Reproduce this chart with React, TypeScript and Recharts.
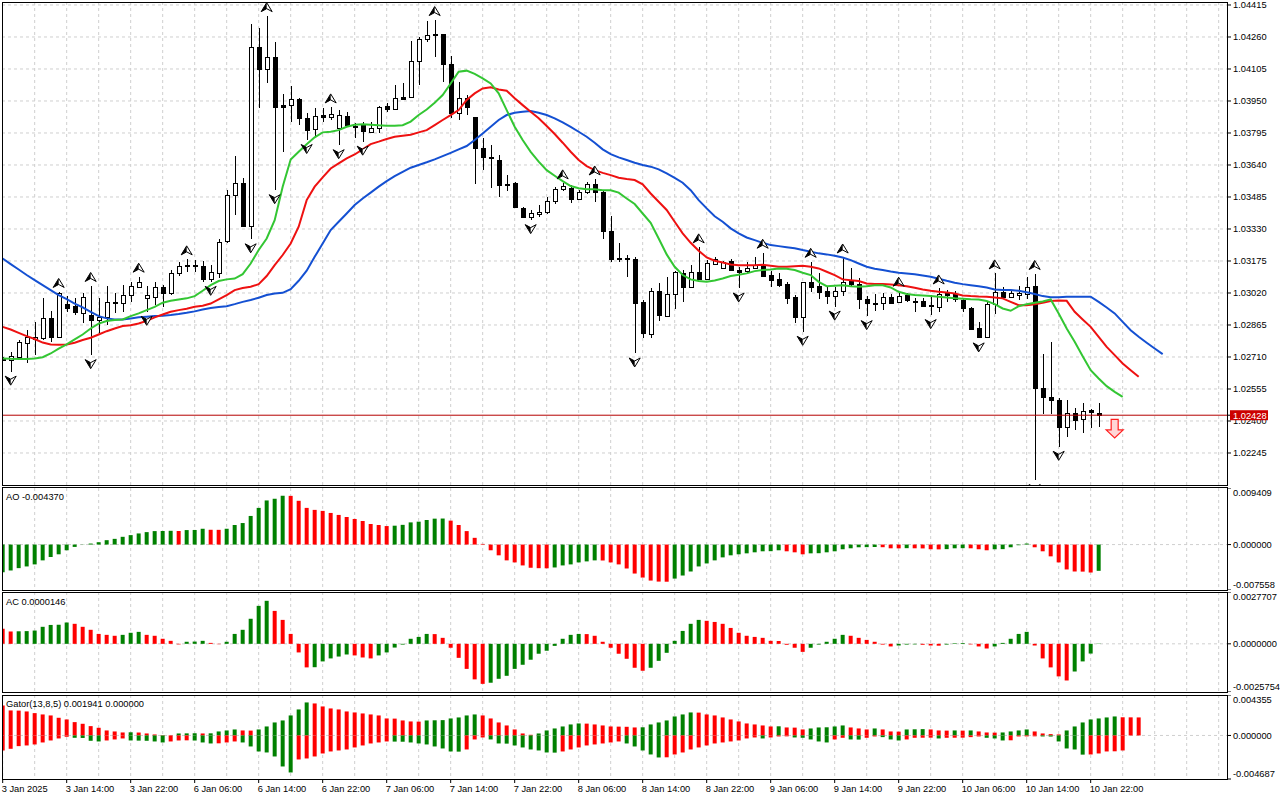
import React from 'react';
import { ComposedChart, Bar, Line, XAxis, YAxis, CartesianGrid, ReferenceLine, Scatter, Cell } from 'recharts';

// ---------- data (EURUSD-like H1, 3 Jan 06:00 .. 10 Jan 23:00) ----------
const openP = [
  1.02701,1.02695,1.02711,1.02779,1.02795,1.02800,1.02897,1.02808,1.02967,1.02957,
  1.02925,1.02913,1.02889,1.02902,1.02970,1.02970,1.03010,1.03050,1.02996,1.03002,
  1.03047,1.03021,1.03115,1.03158,1.03158,1.03150,1.03086,1.03118,1.03273,1.03497,
  1.03551,1.03346,1.04210,1.04103,1.04164,1.03929,1.03930,1.03961,1.03866,1.03812,
  1.03882,1.03874,1.03817,1.03879,1.03830,1.03832,1.03801,1.03817,1.03925,1.03909,
  1.03967,1.03971,1.04143,1.04248,1.04276,1.04274,1.04127,1.03890,1.03963,1.03871,
  1.03720,1.03680,1.03662,1.03549,1.03551,1.03434,1.03389,1.03405,1.03412,1.03465,
  1.03522,1.03530,1.03473,1.03510,1.03547,1.03510,1.03320,1.03189,1.03189,1.03184,
  1.02975,1.02821,1.03030,1.02908,1.03013,1.03118,1.03047,1.03123,1.03087,1.03160,
  1.03139,1.03174,1.03131,1.03128,1.03139,1.03152,1.03107,1.03086,1.03063,1.03002,
  1.02905,1.03071,1.03054,1.03030,1.03005,1.03030,1.03083,1.03066,1.02990,1.02973,
  1.02970,1.03002,1.02975,1.03010,1.02981,1.02981,1.02963,1.02950,1.03018,1.03015,
  1.02986,1.02946,1.02852,1.02808,1.02967,1.03023,1.02999,1.03012,1.03015,1.03054,
  1.02558,1.02514,1.02501,1.02369,1.02441,1.02412,1.02452,1.02441,
];
const highP = [
  1.02711,1.02735,1.02792,1.02841,1.02881,1.02997,1.02933,1.03025,1.03005,1.02994,
  1.03018,1.03054,1.02994,1.03055,1.03018,1.03058,1.03074,1.03099,1.03054,1.03074,
  1.03058,1.03131,1.03171,1.03183,1.03179,1.03176,1.03155,1.03281,1.03518,1.03683,
  1.03575,1.04323,1.04302,1.04361,1.04234,1.03982,1.04022,1.03965,1.03890,1.03915,
  1.03915,1.03919,1.03906,1.03895,1.03845,1.03850,1.03850,1.03925,1.03938,1.04027,
  1.04035,1.04240,1.04261,1.04337,1.04342,1.04276,1.04168,1.04043,1.03979,1.03874,
  1.03769,1.03736,1.03688,1.03591,1.03556,1.03438,1.03422,1.03446,1.03486,1.03535,
  1.03551,1.03543,1.03518,1.03559,1.03570,1.03515,1.03392,1.03260,1.03204,1.03196,
  1.02986,1.03042,1.03069,1.03099,1.03125,1.03131,1.03155,1.03241,1.03179,1.03196,
  1.03176,1.03187,1.03147,1.03171,1.03196,1.03215,1.03126,1.03118,1.03074,1.03010,
  1.03073,1.03171,1.03118,1.03054,1.03047,1.03192,1.03142,1.03091,1.03005,1.03013,
  1.03018,1.03015,1.03031,1.03018,1.02994,1.02994,1.03010,1.03042,1.03034,1.03030,
  1.02994,1.02954,1.02881,1.02978,1.03115,1.03050,1.03034,1.03054,1.03099,1.03112,
  1.02724,1.02784,1.02509,1.02501,1.02461,1.02485,1.02456,1.02485,
];
const lowP = [
  1.02692,1.02639,1.02703,1.02682,1.02719,1.02792,1.02784,1.02805,1.02929,1.02913,
  1.02873,1.02719,1.02824,1.02865,1.02921,1.02929,1.02978,1.03042,1.02929,1.02962,
  1.02954,1.03010,1.03102,1.03123,1.03123,1.03074,1.03074,1.03095,1.03260,1.03397,
  1.03340,1.03280,1.03915,1.04038,1.03518,1.03704,1.03850,1.03833,1.03761,1.03777,
  1.03850,1.03858,1.03736,1.03825,1.03769,1.03753,1.03796,1.03796,1.03898,1.03906,
  1.03955,1.03968,1.04027,1.04237,1.04161,1.04043,1.03866,1.03858,1.03882,1.03546,
  1.03615,1.03530,1.03486,1.03515,1.03434,1.03381,1.03373,1.03386,1.03405,1.03451,
  1.03515,1.03457,1.03470,1.03499,1.03462,1.03280,1.03171,1.03171,1.03099,1.02727,
  1.02800,1.02800,1.02886,1.02905,1.02941,1.02978,1.03044,1.03083,1.03083,1.03155,
  1.03134,1.03128,1.03042,1.03115,1.03134,1.03102,1.03050,1.03050,1.02967,1.02873,
  1.02832,1.03026,1.02989,1.02967,1.02954,1.03005,1.03054,1.02941,1.02908,1.02932,
  1.02937,1.02970,1.02970,1.02978,1.02929,1.02950,1.02913,1.02929,1.02978,1.02978,
  1.02929,1.02841,1.02800,1.02805,1.02918,1.02994,1.02994,1.02986,1.02989,1.02114,
  1.02436,1.02436,1.02275,1.02324,1.02356,1.02343,1.02364,1.02369,
];
const closeP = [
  1.02695,1.02714,1.02784,1.02805,1.02805,1.02897,1.02808,1.03018,1.02946,1.02929,
  1.02999,1.02889,1.02902,1.02975,1.02975,1.03010,1.03054,1.03074,1.03009,1.03047,
  1.03021,1.03115,1.03152,1.03152,1.03150,1.03086,1.03123,1.03265,1.03497,1.03551,
  1.03346,1.04210,1.04103,1.04164,1.03919,1.03922,1.03961,1.03866,1.03809,1.03877,
  1.03871,1.03885,1.03882,1.03833,1.03825,1.03806,1.03820,1.03922,1.03909,1.03963,
  1.03959,1.04143,1.04248,1.04269,1.04268,1.04127,1.03890,1.03963,1.03922,1.03720,
  1.03677,1.03674,1.03541,1.03543,1.03438,1.03389,1.03409,1.03412,1.03465,1.03523,
  1.03538,1.03473,1.03510,1.03549,1.03510,1.03320,1.03183,1.03183,1.03186,1.02970,
  1.02824,1.03030,1.02913,1.03015,1.03123,1.03047,1.03123,1.03086,1.03163,1.03183,
  1.03171,1.03131,1.03123,1.03142,1.03155,1.03103,1.03083,1.03058,1.02994,1.02905,
  1.03071,1.03050,1.03026,1.03005,1.03030,1.03074,1.03066,1.02990,1.02970,1.02967,
  1.02999,1.02973,1.03007,1.02986,1.02975,1.02959,1.02957,1.03013,1.03012,1.02989,
  1.02946,1.02848,1.02808,1.02967,1.03023,1.02999,1.03018,1.03018,1.03047,1.02558,
  1.02514,1.02501,1.02369,1.02441,1.02407,1.02449,1.02443,1.02428,
];

// Alligator (already shifted forward: jaw +8, teeth +5, lips +3)
const jaw = [
  1.03187,1.03160,1.03134,1.03107,1.03082,1.03058,1.03034,1.03010,1.02990,1.02969,
  1.02950,1.02929,1.02908,1.02897,1.02892,1.02892,1.02897,1.02902,1.02905,1.02908,
  1.02910,1.02913,1.02918,1.02924,1.02931,1.02940,1.02947,1.02952,1.02956,1.02966,
  1.02977,1.02986,1.02997,1.03010,1.03018,1.03021,1.03039,1.03079,1.03128,1.03195,
  1.03260,1.03325,1.03365,1.03405,1.03446,1.03478,1.03506,1.03535,1.03562,1.03586,
  1.03607,1.03627,1.03640,1.03653,1.03667,1.03683,1.03699,1.03716,1.03732,1.03761,
  1.03793,1.03825,1.03858,1.03882,1.03893,1.03898,1.03901,1.03893,1.03882,1.03866,
  1.03846,1.03825,1.03801,1.03777,1.03748,1.03716,1.03693,1.03677,1.03664,1.03651,
  1.03640,1.03632,1.03619,1.03599,1.03578,1.03554,1.03518,1.03470,1.03430,1.03392,
  1.03365,1.03333,1.03309,1.03289,1.03276,1.03263,1.03252,1.03247,1.03242,1.03237,
  1.03228,1.03220,1.03212,1.03207,1.03200,1.03192,1.03179,1.03163,1.03147,1.03137,
  1.03131,1.03124,1.03118,1.03115,1.03111,1.03105,1.03099,1.03089,1.03079,1.03070,
  1.03063,1.03058,1.03053,1.03047,1.03037,1.03035,1.03034,1.03031,1.03024,1.03015,
  1.03005,1.03000,1.03000,1.03002,1.03002,1.03002,1.03002,1.02977,1.02950,1.02921,
  1.02880,1.02840,1.02808,1.02779,1.02751,1.02724,
];
const teeth = [
  1.02856,1.02843,1.02827,1.02811,1.02797,1.02780,1.02771,1.02769,1.02771,1.02779,
  1.02792,1.02803,1.02819,1.02835,1.02848,1.02860,1.02864,1.02872,1.02885,1.02902,
  1.02916,1.02929,1.02937,1.02944,1.02953,1.02958,1.02969,1.02989,1.03010,1.03034,
  1.03044,1.03050,1.03063,1.03102,1.03155,1.03204,1.03260,1.03341,1.03470,1.03535,
  1.03580,1.03623,1.03648,1.03672,1.03691,1.03716,1.03741,1.03753,1.03766,1.03777,
  1.03782,1.03787,1.03798,1.03809,1.03833,1.03858,1.03882,1.03906,1.03955,1.03987,
  1.04011,1.04016,1.04006,1.04000,1.03963,1.03930,1.03898,1.03866,1.03829,1.03790,
  1.03748,1.03704,1.03664,1.03635,1.03615,1.03602,1.03591,1.03578,1.03572,1.03567,
  1.03546,1.03502,1.03462,1.03422,1.03365,1.03309,1.03263,1.03225,1.03192,1.03176,
  1.03168,1.03158,1.03155,1.03155,1.03155,1.03157,1.03152,1.03147,1.03147,1.03150,
  1.03152,1.03147,1.03139,1.03123,1.03107,1.03086,1.03082,1.03078,1.03066,1.03063,
  1.03063,1.03061,1.03058,1.03053,1.03045,1.03037,1.03031,1.03026,1.03023,1.03018,
  1.03008,1.03005,1.03003,1.03002,1.02998,1.02994,1.02977,1.02961,1.02961,1.02966,
  1.02973,1.02981,1.02984,1.02982,1.02929,1.02892,1.02856,1.02808,1.02759,1.02719,
  1.02679,1.02646,1.02614,
];
const lips = [
  1.02703,1.02701,1.02700,1.02700,1.02703,1.02709,1.02727,1.02751,1.02771,1.02795,
  1.02819,1.02848,1.02872,1.02884,1.02889,1.02892,1.02908,1.02921,1.02937,1.02953,
  1.02973,1.02982,1.02989,1.02994,1.03005,1.03031,1.03058,1.03078,1.03086,1.03090,
  1.03111,1.03163,1.03228,1.03284,1.03373,1.03535,1.03667,1.03704,1.03740,1.03774,
  1.03798,1.03801,1.03809,1.03825,1.03835,1.03837,1.03835,1.03832,1.03830,1.03830,
  1.03833,1.03850,1.03882,1.03909,1.03942,1.03979,1.04035,1.04092,1.04097,1.04081,
  1.04060,1.04035,1.03987,1.03906,1.03825,1.03761,1.03704,1.03656,1.03615,1.03588,
  1.03562,1.03538,1.03527,1.03523,1.03522,1.03518,1.03518,1.03506,1.03478,1.03451,
  1.03405,1.03360,1.03284,1.03207,1.03147,1.03107,1.03086,1.03078,1.03074,1.03081,
  1.03090,1.03102,1.03108,1.03115,1.03126,1.03131,1.03134,1.03139,1.03137,1.03131,
  1.03118,1.03107,1.03074,1.03053,1.03055,1.03057,1.03053,1.03050,1.03053,1.03058,
  1.03057,1.03047,1.03026,1.03015,1.03010,1.03008,1.03005,1.03002,1.02998,1.02994,
  1.02992,1.02990,1.02989,1.02981,1.02966,1.02945,1.02934,1.02956,1.02966,1.02973,
  1.02979,1.02989,1.02921,1.02848,1.02784,1.02714,1.02646,1.02606,1.02569,1.02541,
  1.02517,
];

const aoValues = [
  -0.00459,-0.00431,-0.00392,-0.00364,-0.00330,-0.00263,-0.00207,-0.00162,-0.00095,-0.00039,
  0.00003,0.00017,0.00039,0.00073,0.00095,0.00129,0.00157,0.00185,0.00207,0.00224,
  0.00226,0.00229,0.00226,0.00241,0.00243,0.00263,0.00246,0.00245,0.00263,0.00325,
  0.00358,0.00476,0.00610,0.00734,0.00762,0.00812,0.00810,0.00728,0.00610,0.00577,
  0.00560,0.00526,0.00493,0.00459,0.00426,0.00392,0.00342,0.00325,0.00308,0.00314,
  0.00328,0.00369,0.00381,0.00409,0.00431,0.00433,0.00398,0.00325,0.00224,0.00112,
  0.00011,-0.00095,-0.00179,-0.00263,-0.00297,-0.00347,-0.00386,-0.00393,-0.00395,-0.00381,
  -0.00347,-0.00330,-0.00297,-0.00280,-0.00263,-0.00265,-0.00297,-0.00330,-0.00398,-0.00482,
  -0.00549,-0.00599,-0.00616,-0.00618,-0.00566,-0.00515,-0.00448,-0.00364,-0.00314,-0.00263,
  -0.00213,-0.00179,-0.00162,-0.00146,-0.00129,-0.00112,-0.00110,-0.00095,-0.00112,-0.00129,
  -0.00162,-0.00146,-0.00144,-0.00129,-0.00112,-0.00078,-0.00062,-0.00045,-0.00043,-0.00041,
  -0.00044,-0.00062,-0.00063,-0.00060,-0.00062,-0.00064,-0.00078,-0.00080,-0.00076,-0.00062,
  -0.00060,-0.00062,-0.00078,-0.00095,-0.00078,-0.00076,-0.00045,-0.00011,0.00017,-0.00045,
  -0.00112,-0.00196,-0.00297,-0.00414,-0.00448,-0.00450,-0.00465,-0.00437,
];
const AO_BEFORE = -0.0048;

const acValues = [
  0.00080,0.00066,0.00067,0.00068,0.00071,0.00091,0.00101,0.00102,0.00114,0.00107,
  0.00091,0.00075,0.00053,0.00048,0.00043,0.00048,0.00059,0.00064,0.00048,0.00043,
  0.00027,0.00016,-0.00003,0.00011,0.00012,0.00016,0.00005,-0.00002,0.00011,0.00053,
  0.00075,0.00134,0.00203,0.00230,0.00176,0.00128,0.00053,-0.00046,-0.00126,-0.00125,
  -0.00094,-0.00078,-0.00068,-0.00057,-0.00062,-0.00073,-0.00078,-0.00062,-0.00046,-0.00020,
  -0.00004,0.00027,0.00037,0.00053,0.00052,0.00032,-0.00021,-0.00075,-0.00134,-0.00190,
  -0.00214,-0.00208,-0.00187,-0.00171,-0.00134,-0.00112,-0.00085,-0.00053,-0.00037,-0.00011,
  0.00027,0.00048,0.00053,0.00052,0.00043,0.00011,-0.00021,-0.00053,-0.00080,-0.00128,
  -0.00144,-0.00128,-0.00091,-0.00048,0.00016,0.00069,0.00107,0.00128,0.00123,0.00117,
  0.00107,0.00085,0.00059,0.00043,0.00037,0.00032,0.00016,0.00015,-0.00005,-0.00021,
  -0.00043,-0.00021,-0.00004,0.00011,0.00027,0.00048,0.00043,0.00032,0.00021,0.00011,
  -0.00004,-0.00014,-0.00009,-0.00004,-0.00003,-0.00005,-0.00009,-0.00010,-0.00004,0.00003,
  0.00004,-0.00003,-0.00014,-0.00025,-0.00014,0.00005,0.00027,0.00053,0.00064,-0.00009,
  -0.00078,-0.00126,-0.00174,-0.00196,-0.00148,-0.00094,-0.00052,0.0000146,
];
const AC_BEFORE = 0.0009;

const gatorUpper = [
  0.003231,0.002693,0.002675,0.002585,0.002405,0.002262,0.002154,0.001903,0.001723,0.001436,
  0.001257,0.001005,0.000826,0.000539,0.000431,0.000323,0.000341,0.000316,0.000215,0.000108,
  0.000036,0.000011,0.000215,0.000226,0.000237,0.000215,0.000230,0.000431,0.000539,0.000646,
  0.000539,0.000524,0.000646,0.000969,0.001400,0.001616,0.002154,0.002800,0.003554,0.003446,
  0.003123,0.002908,0.002800,0.002585,0.002477,0.002369,0.002262,0.002154,0.001831,0.001813,
  0.001616,0.001508,0.001490,0.001616,0.001633,0.001651,0.001831,0.001939,0.002154,0.002262,
  0.002154,0.001831,0.001400,0.001077,0.000646,0.000215,0.000072,0.000215,0.000539,0.000754,
  0.000969,0.001185,0.001292,0.001274,0.001185,0.001077,0.000969,0.000951,0.000933,0.000862,
  0.000880,0.001185,0.001400,0.001616,0.002046,0.002262,0.002477,0.002459,0.002262,0.002154,
  0.001939,0.001723,0.001508,0.001292,0.001185,0.001077,0.000969,0.000987,0.000862,0.000844,
  0.000646,0.000754,0.000862,0.000880,0.000969,0.001077,0.000862,0.000754,0.000646,0.000754,
  0.000646,0.000431,0.000413,0.000646,0.000664,0.000682,0.000646,0.000539,0.000521,0.000539,
  0.000521,0.000539,0.000431,0.000323,0.000305,0.000323,0.000431,0.000539,0.000646,0.000431,
  0.000215,0.000144,0.000108,0.000539,0.000969,0.001400,0.001723,0.001831,0.001939,0.002046,
  0.001957,0.001949,0.001941,
];
const gatorLower = [
  0.001616,0.001436,0.001149,0.001077,0.000969,0.000754,0.000539,0.000323,0.000144,0.000251,
  0.000269,0.000574,0.000646,0.000539,0.000431,0.000323,0.000539,0.000556,0.000574,0.000646,
  0.000754,0.000646,0.000539,0.000524,0.000546,0.000754,0.000862,0.000847,0.000754,0.000646,
  0.000754,0.001185,0.001723,0.001831,0.002262,0.003339,0.003985,0.002585,0.002477,0.002262,
  0.001939,0.001723,0.001616,0.001508,0.001292,0.001077,0.000862,0.000754,0.000646,0.000661,
  0.000675,0.000754,0.000862,0.000969,0.001185,0.001400,0.001723,0.001741,0.001508,0.000431,
  0.000215,0.000431,0.000862,0.000880,0.001077,0.001292,0.001508,0.001616,0.001831,0.001849,
  0.001723,0.001508,0.001292,0.001077,0.000969,0.000862,0.000754,0.000646,0.000862,0.001185,
  0.001616,0.002046,0.002369,0.002351,0.002046,0.001831,0.001508,0.001292,0.001077,0.000862,
  0.000754,0.000646,0.000539,0.000323,0.000215,0.000323,0.000215,0.000108,0.000097,0.000215,
  0.000251,0.000431,0.000646,0.000754,0.000431,0.000251,0.000431,0.000445,0.000251,0.000108,
  0.000180,0.000431,0.000539,0.000431,0.000251,0.000244,0.000237,0.000323,0.000251,0.000244,
  0.000237,0.000180,0.000108,0.000251,0.000323,0.000539,0.000521,0.000108,0.000101,0.000093,
  0.000108,0.000118,0.000646,0.001400,0.001508,0.002064,0.002046,0.001939,0.001723,0.001705,
  0.001616,
];
const GATOR_UP_BEFORE = 0.0034;
const GATOR_DN_BEFORE = 0.0017;

const upFractalBars = [7, 11, 17, 23, 33, 41, 54, 70, 74, 87, 95, 101, 105, 112, 117, 124, 129];
const downFractalBars = [1, 11, 18, 26, 31, 34, 38, 42, 45, 66, 79, 92, 100, 104, 108, 116, 122, 129, 132];
const sellSignal = [{ k: 139, p: 1.02364 }];

const timeLabels = [
  '3 Jan 2025', '3 Jan 14:00', '3 Jan 22:00', '6 Jan 06:00', '6 Jan 14:00', '6 Jan 22:00',
  '7 Jan 06:00', '7 Jan 14:00', '7 Jan 22:00', '8 Jan 06:00', '8 Jan 14:00', '8 Jan 22:00',
  '9 Jan 06:00', '9 Jan 14:00', '9 Jan 22:00', '10 Jan 06:00', '10 Jan 14:00', '10 Jan 22:00',
];
const labelBars = timeLabels.map((_, i) => i * 8);
const gridBars = Array.from({ length: 39 }, (_, i) => i * 4);

const priceTicks = [1.02245, 1.024, 1.02555, 1.0271, 1.02865, 1.0302, 1.03175, 1.0333, 1.03485, 1.0364, 1.03795, 1.0395, 1.04105, 1.0426, 1.04415];
const LAST_PRICE = 1.02428;
const AO_RANGE = [-0.007558, 0.009409];
const AC_RANGE = [-0.0025754, 0.0027707];
const GATOR_RANGE = [-0.004687, 0.004355];

// ---------- styling ----------
const FONT = '"Liberation Sans", Arial, sans-serif';
const FS = 9.3;
const GREEN = '#008000';
const RED = '#ff0000';
const GRID = '#cfcfcf';
const X_DOMAIN = [-0.084, 153.04];
const Y_DOMAIN = [1.0209, 1.044295];

// ---------- derived rows ----------
const mainRows = jaw.map((j, k) => ({
  k,
  range: k < openP.length ? [lowP[k], highP[k]] : null,
  o: openP[k], h: highP[k], l: lowP[k], c: closeP[k],
  jaw: j,
  teeth: k < teeth.length ? teeth[k] : null,
  lips: k < lips.length ? lips[k] : null,
}));
const upFr = upFractalBars.map((k) => ({ k, p: highP[k] }));
const downFr = downFractalBars.map((k) => ({ k, p: lowP[k] }));
const aoRows = aoValues.map((v, k) => ({ k, v }));
const acRows = acValues.map((v, k) => ({ k, v }));
const gatorRows = gatorUpper.map((u, k) => ({ k, up: u, dn: k < gatorLower.length ? -gatorLower[k] : null }));

const risingColor = (arr: number[], i: number, before: number) =>
  arr[i] > (i === 0 ? before : arr[i - 1]) ? GREEN : RED;

// ---------- shapes ----------
const CandleShape = (props: any) => {
  const { x, y, width, height, payload } = props;
  if (!payload || payload.o == null || x == null || y == null) return null;
  const { o, h, l, c } = payload;
  const yTop = Math.min(y, y + height);
  const yBot = Math.max(y, y + height);
  const span = h - l;
  const toY = (v: number) => (span === 0 ? yTop : yTop + ((h - v) / span) * (yBot - yTop));
  const cx = Math.round(x + width / 2) + 0.5;
  const bTop = Math.round(toY(Math.max(o, c))) + 0.5;
  const bBot = Math.max(Math.round(toY(Math.min(o, c))) + 0.5, bTop + 1);
  const bull = c >= o;
  return (
    <g>
      <line x1={cx} x2={cx} y1={Math.round(yTop)} y2={Math.round(yBot)} stroke="#000" strokeWidth={1} />
      <rect x={cx - 2} y={bTop} width={4} height={bBot - bTop} fill={bull ? '#fff' : '#000'} stroke="#000" strokeWidth={1} />
    </g>
  );
};

const UpFractal = (props: any) => {
  const { cx, cy } = props;
  if (cx == null || cy == null) return null;
  return (
    <g transform={`translate(${cx},${cy - 9})`}>
      <path d="M0,-4.5 L5.5,4.5 L0,1.5 L-5.5,4.5 Z" fill="#fff" stroke="#000" strokeWidth={1} strokeLinejoin="round" />
      <path d="M0,-4.5 L0,1.5 L-5.5,4.5 Z" fill="#000" />
    </g>
  );
};
const DownFractal = (props: any) => {
  const { cx, cy } = props;
  if (cx == null || cy == null) return null;
  return (
    <g transform={`translate(${cx},${cy + 9})`}>
      <path d="M0,4.5 L5.5,-4.5 L0,-1.5 L-5.5,-4.5 Z" fill="#fff" stroke="#000" strokeWidth={1} strokeLinejoin="round" />
      <path d="M0,4.5 L0,-1.5 L-5.5,-4.5 Z" fill="#000" />
    </g>
  );
};
const SellArrow = (props: any) => {
  const { cx, cy } = props;
  if (cx == null || cy == null) return null;
  return (
    <path
      transform={`translate(${cx},${cy})`}
      d="M-3.5,-9 L3.5,-9 L3.5,1.5 L8.5,1.5 L0,9.5 L-8.5,1.5 L-3.5,1.5 Z"
      fill="#ffd6d6"
      stroke="#ff2020"
      strokeWidth={1.2}
    />
  );
};

// ---------- ticks ----------
const PriceTick = (props: any) => {
  const { x, y, payload } = props;
  const v = payload.value;
  if (v === LAST_PRICE) {
    return (
      <g>
        <rect x={x - 3} y={y - 5} width={38} height={10} fill="#cc0000" />
        <text x={x} y={y + 3.4} fontSize={FS} fontFamily={FONT} fill="#fff" textAnchor="start">{v.toFixed(5)}</text>
      </g>
    );
  }
  return <text x={x} y={y + 3.4} fontSize={FS} fontFamily={FONT} fill="#000" textAnchor="start">{v.toFixed(5)}</text>;
};

const makeOscTick = (digits: number, range: number[]) => (props: any) => {
  const { x, y, payload } = props;
  const v = payload.value;
  const ty = v === range[1] ? y + 4.5 : v === range[0] ? y - 5.5 : y;
  return (
    <text x={x} y={ty + 3.4} fontSize={FS} fontFamily={FONT} fill="#000" textAnchor="start">
      {v.toFixed(digits)}
    </text>
  );
};
const AoTick = makeOscTick(6, AO_RANGE);
const AcTick = makeOscTick(7, AC_RANGE);
const GatorTick = makeOscTick(6, GATOR_RANGE);

const TimeTick = (props: any) => {
  const { x, y, payload } = props;
  const idx = labelBars.indexOf(payload.value);
  return (
    <text x={x - 1} y={y + 6.6} fontSize={FS} fontFamily={FONT} fill="#000" textAnchor="start">
      {idx >= 0 ? timeLabels[idx] : ''}
    </text>
  );
};

const frame = (left: number, top: number, w: number, h: number): React.CSSProperties => ({
  position: 'absolute', left, top, width: w, height: h, border: '1px solid #000', boxSizing: 'border-box', pointerEvents: 'none',
});
const panelLabel = (top: number): React.CSSProperties => ({
  position: 'absolute', left: 6, top, fontSize: FS, lineHeight: '12px', fontFamily: FONT, color: '#000', whiteSpace: 'nowrap',
});

export default function App() {
  return (
    <div style={{ position: 'absolute', left: 0, top: 0, width: 1280, height: 800, background: '#fff', overflow: 'hidden' }}>
      {/* Main price panel */}
      <div style={{ position: 'absolute', left: 0, top: 0 }}>
        <ComposedChart width={1280} height={487} data={mainRows} margin={{ top: 2, right: 0, bottom: 2, left: 2 }}>
          <CartesianGrid stroke={GRID} strokeDasharray="3 3" verticalValues={gridBars} horizontalValues={priceTicks} />
          <XAxis type="number" dataKey="k" domain={X_DOMAIN} ticks={gridBars} hide allowDataOverflow />
          <YAxis
            orientation="right" type="number" width={53} domain={Y_DOMAIN} allowDataOverflow
            ticks={[...priceTicks, LAST_PRICE]} interval={0} tick={PriceTick}
            tickSize={4} tickMargin={2} axisLine={false} tickLine={{ stroke: '#000' }}
          />
          <Bar dataKey="range" barSize={5} shape={CandleShape} isAnimationActive={false} />
          <Line dataKey="jaw" type="linear" stroke="#1450d2" strokeWidth={2} dot={false} isAnimationActive={false} />
          <Line dataKey="teeth" type="linear" stroke="#ee1111" strokeWidth={2} dot={false} isAnimationActive={false} />
          <Line dataKey="lips" type="linear" stroke="#33c633" strokeWidth={2} dot={false} isAnimationActive={false} />
          <ReferenceLine y={LAST_PRICE} stroke="#b40000" strokeWidth={1} />
          <Scatter data={upFr} dataKey="p" shape={UpFractal} isAnimationActive={false} />
          <Scatter data={downFr} dataKey="p" shape={DownFractal} isAnimationActive={false} />
          <Scatter data={sellSignal} dataKey="p" shape={SellArrow} isAnimationActive={false} />
        </ComposedChart>
      </div>

      {/* AO */}
      <div style={{ position: 'absolute', left: 0, top: 488 }}>
        <ComposedChart width={1280} height={102} data={aoRows} margin={{ top: 0, right: 0, bottom: 0, left: 2 }}>
          <CartesianGrid stroke={GRID} strokeDasharray="3 3" verticalValues={gridBars} horizontalValues={[0]} />
          <XAxis type="number" dataKey="k" domain={X_DOMAIN} ticks={gridBars} hide allowDataOverflow />
          <YAxis
            orientation="right" type="number" width={53} domain={AO_RANGE} allowDataOverflow
            ticks={[AO_RANGE[1], 0, AO_RANGE[0]]} interval={0} tick={AoTick}
            tickSize={4} tickMargin={2} axisLine={false} tickLine={{ stroke: '#000' }}
          />
          <Bar dataKey="v" barSize={4} isAnimationActive={false}>
            {aoRows.map((r, i) => <Cell key={i} fill={risingColor(aoValues, i, AO_BEFORE)} />)}
          </Bar>
        </ComposedChart>
      </div>

      {/* AC */}
      <div style={{ position: 'absolute', left: 0, top: 592 }}>
        <ComposedChart width={1280} height={100} data={acRows} margin={{ top: 0, right: 0, bottom: 0, left: 2 }}>
          <CartesianGrid stroke={GRID} strokeDasharray="3 3" verticalValues={gridBars} horizontalValues={[0]} />
          <XAxis type="number" dataKey="k" domain={X_DOMAIN} ticks={gridBars} hide allowDataOverflow />
          <YAxis
            orientation="right" type="number" width={53} domain={AC_RANGE} allowDataOverflow
            ticks={[AC_RANGE[1], 0, AC_RANGE[0]]} interval={0} tick={AcTick}
            tickSize={4} tickMargin={2} axisLine={false} tickLine={{ stroke: '#000' }}
          />
          <Bar dataKey="v" barSize={4} isAnimationActive={false}>
            {acRows.map((r, i) => <Cell key={i} fill={risingColor(acValues, i, AC_BEFORE)} />)}
          </Bar>
        </ComposedChart>
      </div>

      {/* Gator */}
      <div style={{ position: 'absolute', left: 0, top: 695 }}>
        <ComposedChart width={1280} height={105} data={gatorRows} stackOffset="sign" margin={{ top: 0, right: 0, bottom: 0, left: 2 }}>
          <CartesianGrid stroke={GRID} strokeDasharray="3 3" verticalValues={gridBars} horizontalValues={[0]} />
          <XAxis
            type="number" dataKey="k" domain={X_DOMAIN} allowDataOverflow height={21}
            ticks={labelBars} interval={0} tick={TimeTick} tickSize={4} tickMargin={2}
            axisLine={false} tickLine={{ stroke: '#000' }}
          />
          <YAxis
            orientation="right" type="number" width={53} domain={GATOR_RANGE} allowDataOverflow
            ticks={[GATOR_RANGE[1], 0, GATOR_RANGE[0]]} interval={0} tick={GatorTick}
            tickSize={4} tickMargin={2} axisLine={false} tickLine={{ stroke: '#000' }}
          />
          <Bar dataKey="up" stackId="g" barSize={4} isAnimationActive={false}>
            {gatorRows.map((r, i) => <Cell key={i} fill={risingColor(gatorUpper, i, GATOR_UP_BEFORE)} />)}
          </Bar>
          <Bar dataKey="dn" stackId="g" barSize={4} isAnimationActive={false}>
            {gatorRows.map((r, i) => <Cell key={i} fill={i < gatorLower.length ? risingColor(gatorLower, i, GATOR_DN_BEFORE) : RED} />)}
          </Bar>
        </ComposedChart>
      </div>

      {/* panel frames */}
      <div style={frame(2, 2, 1226, 484)} />
      <div style={frame(2, 487, 1226, 104)} />
      <div style={frame(2, 592, 1226, 101)} />
      <div style={frame(2, 695, 1226, 85)} />

      {/* indicator captions */}
      <div style={panelLabel(490.7)}>AO -0.004370</div>
      <div style={panelLabel(595.7)}>AC 0.0000146</div>
      <div style={panelLabel(698.3)}>Gator(13,8,5) 0.001941 0.000000</div>
    </div>
  );
}
